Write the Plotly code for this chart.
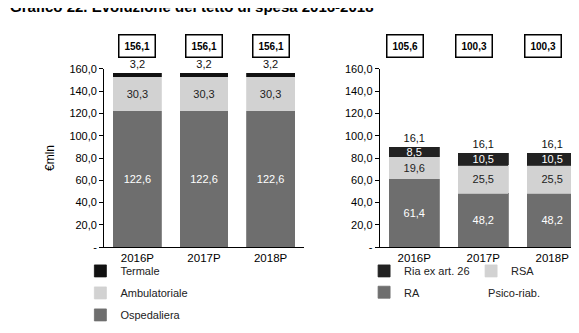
import plotly.graph_objects as go

years = ["2016P", "2017P", "2018P"]

# Left panel (stack bottom -> top)
ospedaliera = [122.6, 122.6, 122.6]
ambulatoriale = [30.3, 30.3, 30.3]
termale = [3.2, 3.2, 3.2]

# Right panel (stack bottom -> top)
ra = [61.4, 48.2, 48.2]
rsa = [19.6, 25.5, 25.5]
ria = [8.5, 10.5, 10.5]
psico = [16.1, 16.1, 16.1]

y_ticks = [0, 20, 40, 60, 80, 100, 120, 140, 160]


def fmt(v):
    return f"{v:.1f}".replace(".", ",")


FONT = "Liberation Sans"
fig = go.Figure()


def bar(name, x, y, color, xa, ya, legend, rank, textcolor, pos="inside", line=None):
    fig.add_trace(go.Bar(
        name=name, x=x, y=y, xaxis=xa, yaxis=ya, legend=legend, legendrank=rank,
        legendgroup=name,
        marker=dict(color=color, line=dict(color=line or color, width=0.8)),
        text=[fmt(v) for v in y], textposition=pos, insidetextanchor="middle",
        constraintext="none", cliponaxis=False,
        textfont=dict(family=FONT, size=11, color=textcolor),
    ))


bar("Ospedaliera", years, ospedaliera, "#6e6e6e", "x", "y", "legend", 3, "white")
bar("Ambulatoriale", years, ambulatoriale, "#d2d2d2", "x", "y", "legend", 2, "#222")
bar("Termale", years, termale, "#111111", "x", "y", "legend", 1, "#111", pos="outside")

bar("RA", years, ra, "#6e6e6e", "x2", "y2", "legend3", 1, "white")
bar("RSA", years, rsa, "#d2d2d2", "x2", "y2", "legend2", 2, "#222")
bar("Ria ex art. 26", years, ria, "#222222", "x2", "y2", "legend2", 1, "white")
bar("Psico-riab.", years, psico, "rgba(255,255,255,0)", "x2", "y2", "legend4", 1, "#111",
    line="rgba(255,255,255,0)")

left_tot = [a + b + c for a, b, c in zip(ospedaliera, ambulatoriale, termale)]
right_tot = [a + b + c + d for a, b, c, d in zip(ra, rsa, ria, psico)]

ann = []
for xa, tots, shift in (("x", left_tot, 0), ("x2", right_tot, -9)):
    for yr, t in zip(years, tots):
        ann.append(dict(x=yr, xref=xa, y=0.922, yref="paper", text=f"<b>{fmt(t)}</b>",
                        showarrow=False, bordercolor="black", borderwidth=1.5, borderpad=5,
                        bgcolor="white", xshift=shift,
                        font=dict(family=FONT, size=10, color="black")))

ann.append(dict(x=0, xref="paper", y=1, yref="paper", xanchor="left", yanchor="middle",
                yshift=2, showarrow=False,
                text="<b>Grafico 22. Evoluzione del tetto di spesa 2016-2018</b>",
                font=dict(family=FONT, size=15, color="black")))

yaxis_common = dict(range=[0, 160], tickvals=y_ticks,
                    ticktext=[fmt(v) if v else "-" for v in y_ticks],
                    showgrid=False, zeroline=False, showline=True, linecolor="black",
                    linewidth=1, ticks="outside", ticklen=4, tickcolor="black",
                    tickfont=dict(family=FONT, size=11, color="black"),
                    domain=[0.282, 0.817], automargin=False)
xaxis_common = dict(showline=True, linecolor="black", linewidth=1.2, ticks="",
                    showgrid=False, automargin=False,
                    tickfont=dict(family=FONT, size=11.5, color="black"))

leg_font = dict(family=FONT, size=11, color="#222")
fig.update_layout(
    width=579, height=333, margin=dict(l=0, r=0, t=0, b=0, autoexpand=False),
    paper_bgcolor="white", plot_bgcolor="white",
    barmode="stack", bargap=0.28, separators=",.",
    font=dict(family=FONT, size=11, color="black"),
    xaxis=dict(domain=[0.166, 0.511], anchor="y", **xaxis_common),
    yaxis=dict(anchor="x", title=dict(text="€mln", standoff=12,
               font=dict(family=FONT, size=12)), **yaxis_common),
    xaxis2=dict(domain=[0.642, 0.9995], anchor="y2", **xaxis_common),
    yaxis2=dict(anchor="x2", **yaxis_common),
    legend=dict(x=0.125, y=0.254, xanchor="left", yanchor="top", orientation="v",
                traceorder="grouped", font=leg_font,
                itemwidth=30, tracegroupgap=3, bgcolor="rgba(0,0,0,0)"),
    legend2=dict(x=0.615, y=0.254, xanchor="left", yanchor="top", orientation="h",
                 traceorder="normal", entrywidth=62, font=leg_font,
                 itemwidth=30, bgcolor="rgba(0,0,0,0)"),
    legend3=dict(x=0.615, y=0.19, xanchor="left", yanchor="top", orientation="h",
                 traceorder="normal", font=leg_font,
                 itemwidth=30, bgcolor="rgba(0,0,0,0)"),
    legend4=dict(x=0.76, y=0.19, xanchor="left", yanchor="top", orientation="h",
                 traceorder="normal", font=leg_font,
                 itemwidth=30, bgcolor="rgba(0,0,0,0)"),
    annotations=ann,
    showlegend=True,
)

fig.write_html("out.html")
